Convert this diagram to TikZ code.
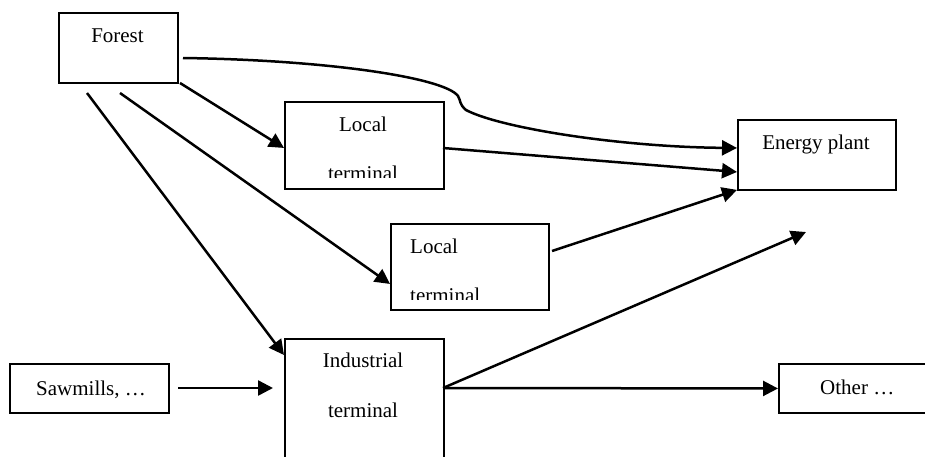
\documentclass[tikz,border=0pt]{standalone}
\usepackage{fontspec}
\setmainfont{Liberation Serif}
\usetikzlibrary{arrows.meta}
\begin{document}
\begin{tikzpicture}[x=1pt,y=-1pt,
  box/.style={draw,line width=1.9pt,rectangle,inner sep=0pt,anchor=north west},
  con/.style={line width=2.5pt,-{Triangle[length=15pt,width=15pt]}},
  lbl/.style={font=\fontsize{21}{25}\selectfont,inner sep=0pt,anchor=base},
  lblw/.style={lbl,anchor=base west}]
\useasboundingbox (0,0) rectangle (925,456);
\clip (0,0) rectangle (925,456);
% boxes
\node[box,minimum width=119pt,minimum height=70pt] (forest) at (58,12) {};
\node[box,minimum width=159pt,minimum height=87pt] (local1) at (284,101) {};
\node[box,minimum width=158pt,minimum height=70pt] (energy) at (737,119) {};
\node[box,minimum width=158pt,minimum height=86pt] (local2) at (390,223) {};
\node[box,minimum width=159pt,minimum height=140pt] (ind) at (284,338) {};
\node[box,minimum width=159pt,minimum height=49pt] (saw) at (9,363) {};
\node[box,minimum width=200pt,minimum height=49pt] (other) at (778,363) {};
% texts
\node[lbl] (tforest) at (117.5,42) {Forest};
\node[lbl] (tlocal1a) at (363,131) {Local};
\begin{scope}
  \clip (284,101) rectangle (443,177.5);
  \node[lbl] (tlocal1b) at (363,180) {terminal};
\end{scope}
\node[lbl] (tenergy) at (816,149) {Energy plant};
\node[lblw] (tlocal2a) at (410,253) {Local};
\begin{scope}
  \clip (390,223) rectangle (548,299);
  \node[lblw] (tlocal2b) at (410,302) {terminal};
\end{scope}
\node[lbl] (tinda) at (363,367) {Industrial};
\node[lbl] (tindb) at (363,417) {terminal};
\node[lbl] (tsaw) at (91,395) {Sawmills, …};
\node[lblw] (tother) at (820,394) {Other …};
% free coordinates
\coordinate (fc) at (183,58);
\coordinate (f1) at (180,83);
\coordinate (f2) at (120,93);
\coordinate (f3) at (87,93);
\coordinate (l1s) at (443,148);
\coordinate (l2s) at (552,251);
\coordinate (is) at (443,388);
\coordinate (free) at (806,232);
\coordinate (ss) at (178,388);
\coordinate (st) at (273,388);
% connectors
\draw[con] (fc) .. controls (330,60) and (445,78) .. (458,96)
  .. controls (461,101) and (459,104) .. (466,110)
  .. controls (500,128) and (620,147) .. ([yshift=7pt]energy.west);
\draw[con] (f1) -- ([yshift=-2.5pt]local1.west);
\draw[con] (f2) -- ([yshift=-17pt]local2.west);
\draw[con] (f3) -- ([yshift=-17pt]ind.north west);
\draw[con] (l1s) -- ([yshift=-17pt]energy.west);
\draw[con] (l2s) -- ([yshift=1pt]energy.south west);
\draw[con] (is) -- (free);
\draw[con] (is) -- (other.west);
\draw[con] (ss) -- (st);
\end{tikzpicture}
\end{document}
